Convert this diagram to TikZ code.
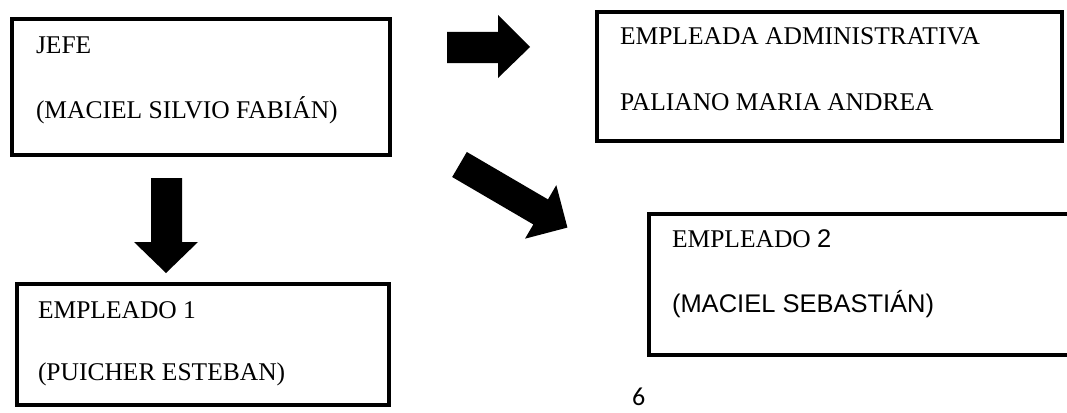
\documentclass[tikz,border=0pt]{standalone}
\usepackage{fontspec}
\setmainfont{Liberation Serif}
\newfontfamily\arialf{Liberation Sans}
\newfontfamily\calibrif{Carlito}
\begin{document}
\begin{tikzpicture}[x=1pt,y=-1pt,
  boxnode/.style={draw=black, line width=4pt, rectangle, inner sep=0pt, outer sep=0pt},
  txt/.style={anchor=base west, inner sep=0pt, outer sep=0pt, font=\fontsize{25.5}{30}\selectfont},
  blockarrow/.style={fill=black, draw=none}]
\useasboundingbox (0,0) rectangle (1067,412);
\clip (0,0) rectangle (1067,412);
\fill[white] (0,0) rectangle (1067,412);
% boxes
\node[boxnode, minimum width=378pt, minimum height=136pt] (jefe) at (201,87) {};
\node[boxnode, minimum width=465pt, minimum height=129pt] (admin) at (829.5,76.5) {};
\node[boxnode, minimum width=441pt, minimum height=141pt] (emp2) at (869.5,284.5) {};
\node[boxnode, minimum width=372pt, minimum height=121pt] (emp1) at (203,344.5) {};
% texts
\node[txt] (t1) at (36,54) {JEFE};
\node[txt] (t2) at (36,118) {(MACIEL SILVIO FABIÁN)};
\node[txt] (t3) at (620,45) {EMPLEADA ADMINISTRATIVA};
\node[txt] (t4) at (620,110) {PALIANO MARIA ANDREA};
\node[txt] (t5) at (672,247) {EMPLEADO {\arialf 2}};
\node[txt] (t6) at (672,312) {\arialf (MACIEL SEBASTIÁN)};
\node[txt] (t7) at (38,318) {EMPLEADO 1};
\node[txt] (t8) at (38,380) {(PUICHER ESTEBAN)};
\node[anchor=base west, inner sep=0pt, font=\calibrif\fontsize{26}{30}\selectfont] (pg) at (632,405) {6};
% block arrows
\fill[blockarrow] (447,32) -- (498,32) -- (498,15) -- (530,47) -- (498,78) -- (498,63) -- (447,63) -- cycle;
\fill[blockarrow] (151,178) -- (182,178) -- (182,242) -- (198,242) -- (166,273) -- (134,242) -- (151,242) -- cycle;
\begin{scope}[shift={(459.5,164.5)}, rotate=-30.3]
\fill[blockarrow] (0,14.5) -- (94,14.5) -- (94,31) -- (125,0) -- (94,-31) -- (94,-14.5) -- (0,-14.5) -- cycle;
\end{scope}
\end{tikzpicture}
\end{document}
